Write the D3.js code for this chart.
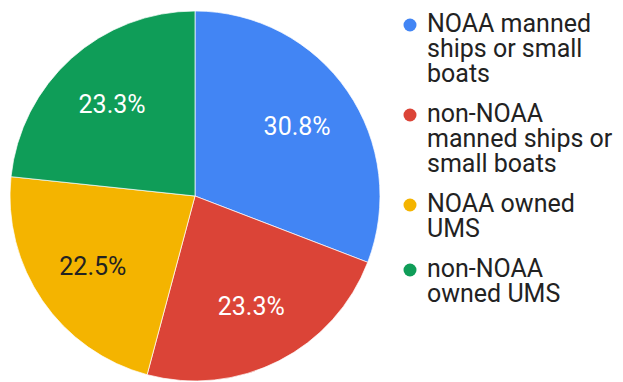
<!DOCTYPE html>
<html>
<head>
<meta charset="utf-8">
<script src="https://cdn.jsdelivr.net/npm/d3@7"></script>
<style>
  body { margin: 0; background: #fff; }
  text { font-family: Roboto, "Noto Sans", sans-serif; }
</style>
</head>
<body>
<div id="chart"></div>
<script>
// data
const categories = ["NOAA manned ships or small boats", "non-NOAA manned ships or small boats", "NOAA owned UMS", "non-NOAA owned UMS"];
const counts = [37, 28, 27, 28];
const legendLines = [
  ["NOAA manned", "ships or small", "boats"],
  ["non-NOAA", "manned ships or", "small boats"],
  ["NOAA owned", "UMS"],
  ["non-NOAA", "owned UMS"]
];
const colors = ["#4285f4", "#db4437", "#f4b400", "#0f9d58"];
const labelColors = ["#fff", "#fff", "#222", "#fff"];

const width = 623, height = 382;
const cx = 195, cy = 196, r = 185;

const svg = d3.select("#chart").append("svg")
  .attr("width", width)
  .attr("height", height);

const data = categories.map((c, i) => ({name: c, value: counts[i], i: i}));
const total = d3.sum(counts);

const pie = d3.pie().value(d => d.value).sort(null);
const arc = d3.arc().innerRadius(0).outerRadius(r);
const labelArc = d3.arc().innerRadius(r * 0.67).outerRadius(r * 0.67);

const g = svg.append("g").attr("transform", "translate(" + cx + "," + cy + ")");

const arcs = pie(data);

g.selectAll("path")
  .data(arcs)
  .enter()
  .append("path")
  .attr("d", arc)
  .attr("fill", d => colors[d.data.i])
  .attr("stroke", "#fff")
  .attr("stroke-width", 0.7);

g.selectAll("text.lbl")
  .data(arcs)
  .enter()
  .append("text")
  .attr("class", "lbl")
  .attr("transform", d => "translate(" + labelArc.centroid(d) + ")")
  .attr("text-anchor", "middle")
  .attr("dy", "0.35em")
  .attr("font-size", 25)
  .attr("fill", d => labelColors[d.data.i])
  .text(d => (d.data.value / total * 100).toFixed(1) + "%");

// legend
const lineH = 25, itemGap = 40;
let base = 32;
const legend = svg.append("g");
legendLines.forEach((lines, i) => {
  legend.append("circle")
    .attr("cx", 410)
    .attr("cy", base - 7)
    .attr("r", 6.5)
    .attr("fill", colors[i]);
  const t = legend.append("text")
    .attr("x", 427)
    .attr("y", base)
    .attr("font-size", 25)
    .attr("fill", "#222");
  lines.forEach((ln, j) => {
    t.append("tspan").attr("x", 427).attr("y", base + j * lineH).text(ln);
  });
  base += (lines.length - 1) * lineH + itemGap;
});
</script>
</body>
</html>
